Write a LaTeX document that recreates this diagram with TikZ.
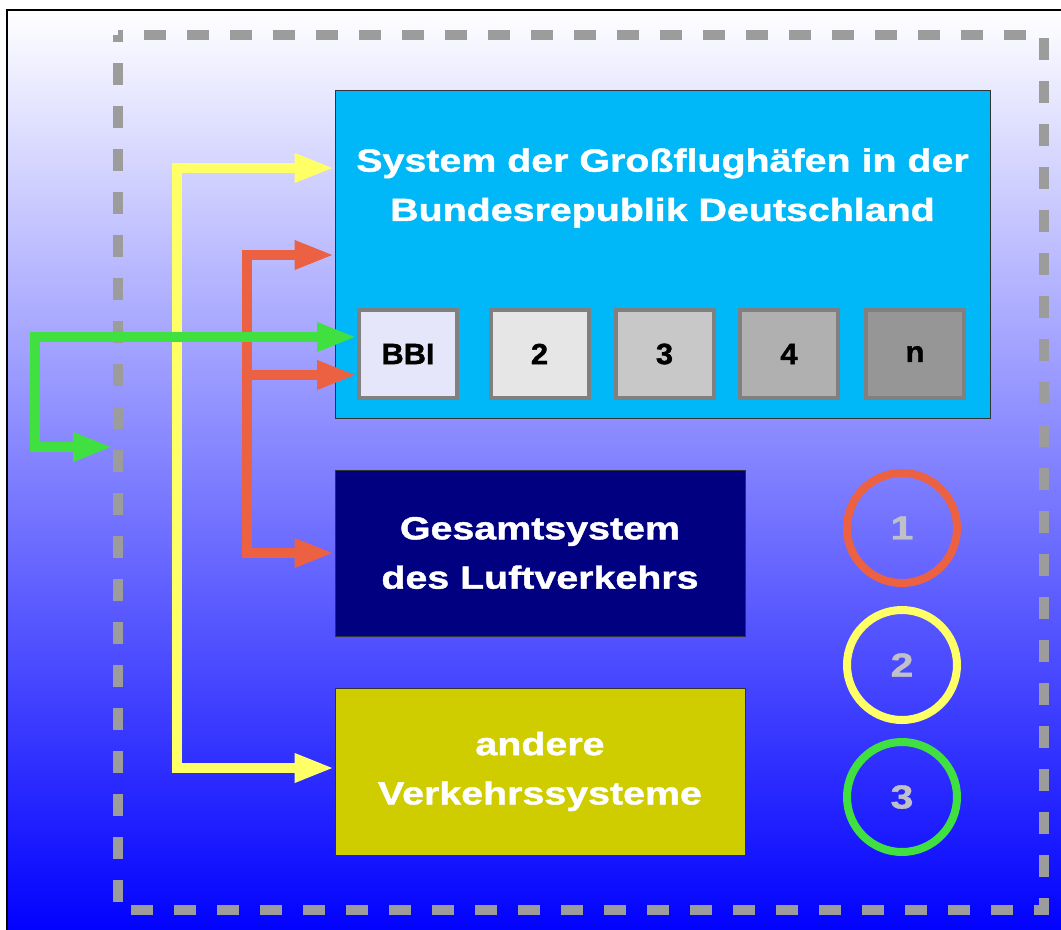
\documentclass[tikz,border=0pt]{standalone}
\usepackage{fontspec}
\setmainfont{Liberation Sans}[FakeStretch=1.23,BoldFeatures={FakeBold=1.3}]
\newfontfamily\boxfont{Liberation Sans}[FakeStretch=1.05,BoldFeatures={FakeBold=1.3}]
\usetikzlibrary{arrows.meta}
\definecolor{skyblue}{HTML}{00B8F8}
\definecolor{navybox}{HTML}{000080}
\definecolor{olivebox}{HTML}{CFCC00}
\definecolor{arrred}{HTML}{EB6141}
\definecolor{arryellow}{HTML}{FFFF66}
\definecolor{arrgreen}{HTML}{40E040}
\definecolor{dashgray}{HTML}{9C9C9C}
\definecolor{numgray}{HTML}{C0C0C8}
\definecolor{boxedge}{HTML}{808080}
\definecolor{fillbbi}{HTML}{E6E6FA}
\definecolor{filltwo}{HTML}{E6E6E6}
\definecolor{fillthree}{HTML}{C8C8C8}
\definecolor{fillfour}{HTML}{B0B0B0}
\definecolor{filln}{HTML}{969696}
\begin{document}
\begin{tikzpicture}[x=0.75pt,y=-0.75pt,
  bigtext/.style={text=white,font=\bfseries\fontsize{24}{37}\selectfont,align=center},
  mainbox/.style={draw=black!80,line width=0.75pt,inner sep=0pt},
  apbox/.style={draw=boxedge,line width=3pt,minimum width=73.5pt,minimum height=66pt,
    inner sep=0pt,font=\boxfont\bfseries\fontsize{22}{26}\selectfont,text=black},
  numcirc/.style={circle,draw,line width=6pt,minimum size=82.5pt,inner sep=0pt,
    text=numgray,font=\bfseries\fontsize{25}{30}\selectfont},
  framebox/.style={minimum width=694.5pt,minimum height=656.25pt,inner sep=0pt,outer sep=3.75pt},
  framedash/.style={draw=dashgray,line width=7.5pt,dash pattern=on 16.5pt off 15.75pt,
    dash phase=12.75pt,line join=miter},
  conn/.style={line width=7.5pt,line join=miter,line cap=butt},
  tip/.tip={Triangle[length=30pt,width=20pt]},
  yconn/.style={conn,draw=arryellow},
  rconn/.style={conn,draw=arrred},
  gconn/.style={conn,draw=arrgreen}
]
\useasboundingbox (0,0) rectangle (1061,929);
\fill[white] (0,0) rectangle (1061,929);
\shade[top color=white,bottom color=blue] (7,10) rectangle (1075,935);
\draw[line width=1.5pt] (1075,10) -- (7,10) -- (7,935);

% dashed frame
\node[framebox] (frame) at (581,472.5) {};
\draw[framedash] (118,35) -- (1044,35) -- (1044,910) -- (118,910) -- cycle;

% main boxes
\node[mainbox,fill=skyblue,minimum width=491.25pt,minimum height=246pt] (sys) at (662.5,254) {};
\node[bigtext] (systitle) at (662.5,188) {System der Großflughäfen in der\\Bundesrepublik Deutschland};

\node[apbox,fill=fillbbi] (bbi) at (408,354) {BBI};
\node[apbox,fill=filltwo] (b2) at (539.5,354) {2};
\node[apbox,fill=fillthree] (b3) at (664.5,354) {3};
\node[apbox,fill=fillfour] (b4) at (789,354) {4};
\node[apbox,fill=filln] (bn) at (915,354) {n};

\node[mainbox,fill=navybox,minimum width=307.5pt,minimum height=124.5pt,bigtext] (gesamt) at (540,553) {Gesamtsystem\\des Luftverkehrs};
\node[mainbox,fill=olivebox,minimum width=307.5pt,minimum height=125.25pt,bigtext] (andere) at (540,771.5) {andere\\Verkehrssysteme};

% legend circles
\node[numcirc,draw=arrred] (c1) at (902,528) {1};
\node[numcirc,draw=arryellow] (c2) at (902,665) {2};
\node[numcirc,draw=arrgreen] (c3) at (902,797) {3};

% connectors
\coordinate (ytop) at (177,168);
\coordinate (ybot) at (177,768);
\draw[yconn,{tip}-{tip}] (ytop -| sys.west) -- (ytop) -- (ybot) -- (ybot -| andere.west);

\coordinate (rtop) at (247,255);
\coordinate (rmid) at (247,375);
\coordinate (rbot) at (247,553);
\draw[rconn,{tip}-{tip}] (rtop -| sys.west) -- (rtop) -- (rbot) -- (rbot -| gesamt.west);
\draw[rconn,-{tip}] (rmid) -- (rmid -| bbi.west);

\coordinate (gtop) at (35,337);
\coordinate (gbot) at (35,447);
\draw[gconn,{tip}-{tip}] (gbot -| frame.west) -- (gbot) -- (gtop) -- (gtop -| bbi.west);
\end{tikzpicture}
\end{document}
